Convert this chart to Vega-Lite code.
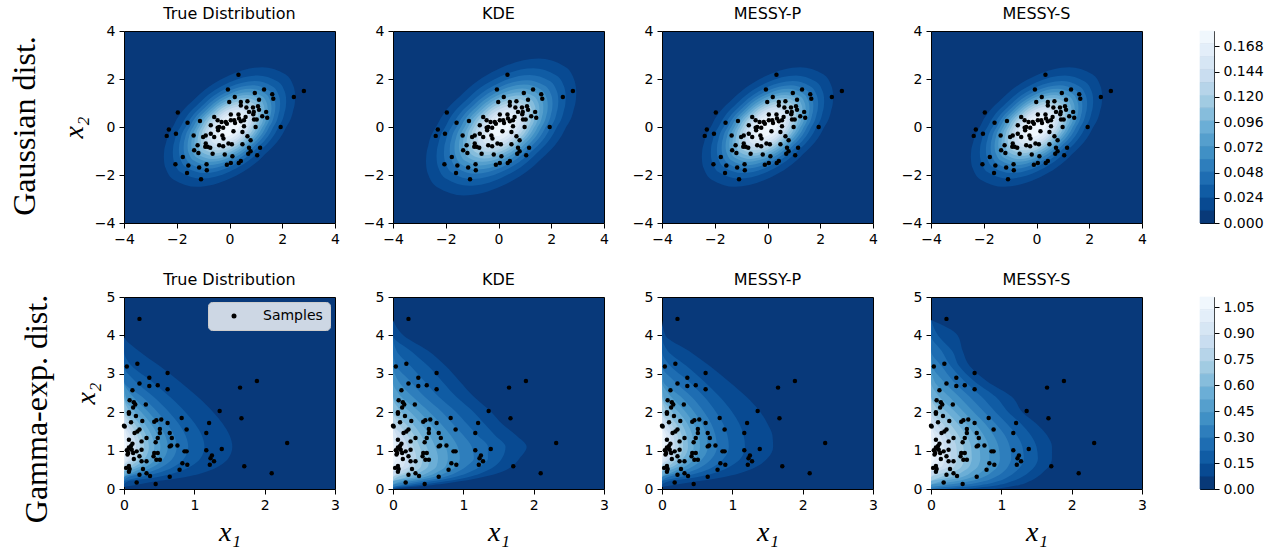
{
  "$schema": "https://vega.github.io/schema/vega-lite/v6.json",
  "padding": {"left": 8, "top": 5, "right": 5, "bottom": 0},
  "background": "white",
  "config": {
    "font": "DejaVu Sans",
    "view": {"stroke": "black", "strokeWidth": 1, "fill": "#08397a"},
    "axis": {"grid": false, "domain": false, "tickColor": "black", "tickSize": 5, "tickWidth": 1,
      "labelFont": "DejaVu Sans", "labelFontSize": 14, "labelColor": "black", "labelPadding": 4,
      "labelFlush": false, "labelOverlap": false,
      "titleFont": "Liberation Serif", "titleFontStyle": "italic", "titleFontWeight": "normal",
      "titleFontSize": 28, "titleColor": "black", "titlePadding": 6},
    "title": {"font": "DejaVu Sans", "fontSize": 16, "fontWeight": "normal", "color": "black", "offset": 2}
  },
  "datasets": {
    "g_pts": [
      {"x":0.34,"y":2.18},{"x":2.82,"y":1.5},{"x":2.44,"y":1.25},{"x":1.31,"y":1.56},{"x":0.96,"y":1.42},{"x":1.62,"y":1.36},{"x":1.66,"y":1.18},{"x":-0.06,"y":1.56},{"x":-0.01,"y":1.04},{"x":0.2,"y":1.25},
      {"x":0.43,"y":1.04},{"x":0.68,"y":1.07},{"x":1.12,"y":1.14},{"x":0.43,"y":0.9},{"x":0.64,"y":0.81},{"x":0.89,"y":0.81},{"x":1.08,"y":0.86},{"x":1.12,"y":0.72},{"x":0.92,"y":0.63},{"x":0.74,"y":0.63},
      {"x":0.61,"y":0.42},{"x":0.93,"y":0.31},{"x":1.03,"y":0.31},{"x":1.24,"y":0.45},{"x":1.43,"y":0.39},{"x":1.94,"y":0.0},{"x":0.9,"y":0.53},{"x":0.05,"y":0.52},{"x":0.34,"y":0.52},{"x":0.36,"y":0.35},
      {"x":0.18,"y":0.28},{"x":0.05,"y":0.28},{"x":-0.14,"y":0.21},{"x":-0.3,"y":0.21},{"x":-0.58,"y":0.42},{"x":-0.45,"y":0.28},{"x":-0.71,"y":0.07},{"x":-0.39,"y":0.0},{"x":-0.43,"y":-0.14},{"x":-0.24,"y":-0.03},
      {"x":-0.1,"y":0.14},{"x":0.21,"y":0.17},{"x":0.43,"y":0.24},{"x":0.55,"y":0.03},{"x":0.15,"y":-0.18},{"x":0.49,"y":-0.21},{"x":0.68,"y":-0.39},{"x":0.8,"y":-0.55},{"x":0.49,"y":-0.72},{"x":0.74,"y":-0.86},
      {"x":1.16,"y":-0.86},{"x":0.8,"y":-1.01},{"x":0.71,"y":-1.11},{"x":1.05,"y":-1.18},{"x":0.43,"y":-1.42},{"x":0.35,"y":-1.5},{"x":0.05,"y":-1.5},{"x":-0.1,"y":-1.57},{"x":0.11,"y":-1.22},{"x":-0.18,"y":-1.15},
      {"x":-0.24,"y":-0.8},{"x":-0.04,"y":-0.69},{"x":0.09,"y":-0.72},{"x":-0.23,"y":-0.48},{"x":-0.27,"y":-0.35},{"x":-0.71,"y":-0.28},{"x":-0.9,"y":-0.35},{"x":-0.58,"y":-0.42},{"x":-1.0,"y":-0.42},{"x":-0.9,"y":-0.69},
      {"x":-0.83,"y":-0.82},{"x":-0.73,"y":-0.86},{"x":-0.92,"y":-0.82},{"x":-0.64,"y":-1.11},{"x":-1.21,"y":-0.76},{"x":-1.34,"y":-0.97},{"x":-1.18,"y":-1.08},{"x":-1.36,"y":-0.35},{"x":-1.12,"y":0.25},{"x":-1.59,"y":0.18},
      {"x":-1.96,"y":0.6},{"x":-2.03,"y":-0.28},{"x":-2.3,"y":-0.1},{"x":-2.38,"y":-0.37},{"x":-1.77,"y":-1.25},{"x":-2.05,"y":-1.55},{"x":-1.56,"y":-1.6},{"x":-1.61,"y":-1.92},{"x":-1.15,"y":-1.69},{"x":-0.87,"y":-1.55},
      {"x":-0.86,"y":-1.8},{"x":-1.08,"y":-2.18},{"x":1.39,"y":0.63},{"x":0.55,"y":0.28},{"x":0.99,"y":0.0},{"x":-0.45,"y":-0.03},{"x":-0.39,"y":-0.76}
    ],
    "gm_pts": [
      {"x":0.22,"y":4.43},{"x":0.04,"y":3.19},{"x":0.19,"y":3.26},{"x":0.36,"y":2.9},{"x":0.22,"y":2.75},{"x":0.36,"y":2.68},{"x":0.48,"y":2.7},{"x":0.62,"y":3.02},{"x":0.62,"y":2.6},{"x":0.12,"y":2.57},
      {"x":0.08,"y":2.31},{"x":0.14,"y":2.26},{"x":0.16,"y":2.2},{"x":0.13,"y":2.12},{"x":0.31,"y":2.2},{"x":0.07,"y":1.96},{"x":0.07,"y":2.0},{"x":0.17,"y":1.9},{"x":0.1,"y":1.74},{"x":0.01,"y":1.63},
      {"x":0.26,"y":1.77},{"x":0.43,"y":1.75},{"x":0.46,"y":1.79},{"x":0.53,"y":1.81},{"x":0.62,"y":1.72},{"x":0.82,"y":1.85},{"x":0.89,"y":1.55},{"x":0.65,"y":1.46},{"x":0.68,"y":1.33},{"x":0.51,"y":1.56},
      {"x":0.51,"y":1.46},{"x":0.48,"y":1.33},{"x":0.45,"y":1.22},{"x":0.22,"y":1.55},{"x":0.19,"y":1.5},{"x":0.15,"y":1.46},{"x":0.07,"y":1.28},{"x":0.12,"y":1.18},{"x":0.25,"y":1.24},{"x":0.32,"y":1.33},
      {"x":0.07,"y":1.08},{"x":0.11,"y":1.02},{"x":0.04,"y":1.01},{"x":0.06,"y":0.94},{"x":0.13,"y":0.94},{"x":0.18,"y":0.98},{"x":0.25,"y":1.02},{"x":0.22,"y":0.85},{"x":0.25,"y":0.72},{"x":0.32,"y":0.72},
      {"x":0.43,"y":0.94},{"x":0.48,"y":0.94},{"x":0.46,"y":0.76},{"x":0.51,"y":0.76},{"x":0.42,"y":0.85},{"x":0.07,"y":0.6},{"x":0.08,"y":0.52},{"x":0.07,"y":0.45},{"x":0.27,"y":0.52},{"x":0.32,"y":0.41},
      {"x":0.37,"y":0.34},{"x":0.22,"y":0.37},{"x":0.18,"y":0.17},{"x":0.45,"y":0.13},{"x":0.65,"y":0.32},{"x":0.79,"y":0.5},{"x":0.83,"y":0.67},{"x":0.9,"y":0.63},{"x":0.86,"y":0.98},{"x":0.65,"y":1.11},
      {"x":0.67,"y":1.13},{"x":0.76,"y":1.13},{"x":1.17,"y":1.46},{"x":1.21,"y":1.72},{"x":1.17,"y":1.01},{"x":1.23,"y":0.8},{"x":1.22,"y":0.63},{"x":1.28,"y":0.72},{"x":1.25,"y":0.87},{"x":1.36,"y":2.03},
      {"x":1.39,"y":1.04},{"x":1.65,"y":2.64},{"x":1.89,"y":2.81},{"x":1.67,"y":1.84},{"x":1.71,"y":0.59},{"x":2.32,"y":1.2},{"x":2.1,"y":0.41},{"x":0.89,"y":0.98},{"x":0.0,"y":1.65},{"x":0.09,"y":1.05},
      {"x":0.05,"y":0.9},{"x":0.1,"y":1.12},{"x":0.03,"y":0.55},{"x":0.14,"y":0.78}
    ],
    "g_true": [
      {"lev":0.01217,"x":[-2.49,-2.478,-2.415,-2.117,-1.245,0,1.245,2.117,2.415,2.478,2.49],"y":[-1.245,-1.023,-0.684,0.078,1.245,2.156,2.49,2.194,1.732,1.454,1.245],"lo":[-1.245,-1.454,-1.732,-2.194,-2.49,-2.156,-1.245,-0.078,0.684,1.023,1.245]},
      {"lev":0.02435,"x":[-2.15,-2.139,-2.086,-1.828,-1.075,0,1.075,1.828,2.086,2.139,2.15],"y":[-1.075,-0.884,-0.59,0.067,1.075,1.862,2.15,1.895,1.495,1.256,1.075],"lo":[-1.075,-1.256,-1.495,-1.895,-2.15,-1.862,-1.075,-0.067,0.59,0.884,1.075]},
      {"lev":0.03652,"x":[-1.92,-1.91,-1.862,-1.632,-0.96,0,0.96,1.632,1.862,1.91,1.92],"y":[-0.96,-0.789,-0.527,0.06,0.96,1.663,1.92,1.692,1.335,1.121,0.96],"lo":[-0.96,-1.121,-1.335,-1.692,-1.92,-1.663,-0.96,-0.06,0.527,0.789,0.96]},
      {"lev":0.0487,"x":[-1.74,-1.731,-1.688,-1.479,-0.87,0,0.87,1.479,1.688,1.731,1.74],"y":[-0.87,-0.715,-0.478,0.054,0.87,1.507,1.74,1.533,1.21,1.016,0.87],"lo":[-0.87,-1.016,-1.21,-1.533,-1.74,-1.507,-0.87,-0.054,0.478,0.715,0.87]},
      {"lev":0.06087,"x":[-1.59,-1.582,-1.542,-1.352,-0.795,0,0.795,1.352,1.542,1.582,1.59],"y":[-0.795,-0.653,-0.436,0.05,0.795,1.377,1.59,1.401,1.106,0.929,0.795],"lo":[-0.795,-0.929,-1.106,-1.401,-1.59,-1.377,-0.795,-0.05,0.436,0.653,0.795]},
      {"lev":0.07304,"x":[-1.45,-1.443,-1.407,-1.233,-0.725,0,0.725,1.233,1.407,1.443,1.45],"y":[-0.725,-0.596,-0.398,0.045,0.725,1.256,1.45,1.278,1.008,0.847,0.725],"lo":[-0.725,-0.847,-1.008,-1.278,-1.45,-1.256,-0.725,-0.045,0.398,0.596,0.725]},
      {"lev":0.08521,"x":[-1.33,-1.323,-1.29,-1.131,-0.665,0,0.665,1.131,1.29,1.323,1.33],"y":[-0.665,-0.547,-0.365,0.041,0.665,1.152,1.33,1.172,0.925,0.777,0.665],"lo":[-0.665,-0.777,-0.925,-1.172,-1.33,-1.152,-0.665,-0.041,0.365,0.547,0.665]},
      {"lev":0.09739,"x":[-1.21,-1.204,-1.174,-1.029,-0.605,0,0.605,1.029,1.174,1.204,1.21],"y":[-0.605,-0.497,-0.332,0.038,0.605,1.048,1.21,1.066,0.842,0.707,0.605],"lo":[-0.605,-0.707,-0.842,-1.066,-1.21,-1.048,-0.605,-0.038,0.332,0.497,0.605]},
      {"lev":0.10956,"x":[-1.09,-1.085,-1.057,-0.927,-0.545,0,0.545,0.927,1.057,1.085,1.09],"y":[-0.545,-0.448,-0.299,0.034,0.545,0.944,1.09,0.961,0.758,0.637,0.545],"lo":[-0.545,-0.637,-0.758,-0.961,-1.09,-0.944,-0.545,-0.034,0.299,0.448,0.545]},
      {"lev":0.12173,"x":[-0.97,-0.965,-0.941,-0.825,-0.485,0,0.485,0.825,0.941,0.965,0.97],"y":[-0.485,-0.399,-0.266,0.03,0.485,0.84,0.97,0.855,0.675,0.566,0.485],"lo":[-0.485,-0.566,-0.675,-0.855,-0.97,-0.84,-0.485,-0.03,0.266,0.399,0.485]},
      {"lev":0.13391,"x":[-0.85,-0.846,-0.825,-0.723,-0.425,0,0.425,0.723,0.825,0.846,0.85],"y":[-0.425,-0.349,-0.233,0.027,0.425,0.736,0.85,0.749,0.591,0.496,0.425],"lo":[-0.425,-0.496,-0.591,-0.749,-0.85,-0.736,-0.425,-0.027,0.233,0.349,0.425]},
      {"lev":0.14608,"x":[-0.73,-0.726,-0.708,-0.621,-0.365,0,0.365,0.621,0.708,0.726,0.73],"y":[-0.365,-0.3,-0.2,0.023,0.365,0.632,0.73,0.643,0.508,0.426,0.365],"lo":[-0.365,-0.426,-0.508,-0.643,-0.73,-0.632,-0.365,-0.023,0.2,0.3,0.365]},
      {"lev":0.15825,"x":[-0.59,-0.587,-0.572,-0.502,-0.295,0,0.295,0.502,0.572,0.587,0.59],"y":[-0.295,-0.242,-0.162,0.018,0.295,0.511,0.59,0.52,0.41,0.345,0.295],"lo":[-0.295,-0.345,-0.41,-0.52,-0.59,-0.511,-0.295,-0.018,0.162,0.242,0.295]},
      {"lev":0.17043,"x":[-0.42,-0.418,-0.407,-0.357,-0.21,0,0.21,0.357,0.407,0.418,0.42],"y":[-0.21,-0.173,-0.115,0.013,0.21,0.364,0.42,0.37,0.292,0.245,0.21],"lo":[-0.21,-0.245,-0.292,-0.37,-0.42,-0.364,-0.21,-0.013,0.115,0.173,0.21]}
    ],
    "g_kde": [
      {"lev":0.01217,"x":[-2.75,-2.736,-2.665,-2.323,-1.325,0.1,1.525,2.523,2.865,2.936,2.95],"y":[-1.425,-1.171,-0.782,0.089,1.425,2.468,2.85,2.511,1.982,1.664,1.425],"lo":[-1.425,-1.664,-1.982,-2.511,-2.85,-2.468,-1.425,-0.089,0.782,1.171,1.425]},
      {"lev":0.02435,"x":[-2.35,-2.338,-2.277,-1.983,-1.125,0.1,1.325,2.183,2.477,2.538,2.55],"y":[-1.225,-1.007,-0.673,0.076,1.225,2.122,2.45,2.159,1.704,1.431,1.225],"lo":[-1.225,-1.431,-1.704,-2.159,-2.45,-2.122,-1.225,-0.076,0.673,1.007,1.225]},
      {"lev":0.03652,"x":[-2.07,-2.059,-2.005,-1.745,-0.985,0.1,1.185,1.945,2.205,2.259,2.27],"y":[-1.085,-0.892,-0.596,0.068,1.085,1.879,2.17,1.912,1.509,1.267,1.085],"lo":[-1.085,-1.267,-1.509,-1.912,-2.17,-1.879,-1.085,-0.068,0.596,0.892,1.085]},
      {"lev":0.0487,"x":[-1.85,-1.84,-1.792,-1.558,-0.875,0.1,1.075,1.758,1.992,2.04,2.05],"y":[-0.975,-0.801,-0.535,0.061,0.975,1.689,1.95,1.718,1.356,1.139,0.975],"lo":[-0.975,-1.139,-1.356,-1.718,-1.95,-1.689,-0.975,-0.061,0.535,0.801,0.975]},
      {"lev":0.06087,"x":[-1.67,-1.661,-1.617,-1.405,-0.785,0.1,0.985,1.605,1.817,1.861,1.87],"y":[-0.885,-0.727,-0.486,0.055,0.885,1.533,1.77,1.56,1.231,1.034,0.885],"lo":[-0.885,-1.034,-1.231,-1.56,-1.77,-1.533,-0.885,-0.055,0.486,0.727,0.885]},
      {"lev":0.07304,"x":[-1.5,-1.492,-1.452,-1.26,-0.7,0.1,0.9,1.46,1.652,1.692,1.7],"y":[-0.8,-0.658,-0.439,0.05,0.8,1.386,1.6,1.41,1.113,0.934,0.8],"lo":[-0.8,-0.934,-1.113,-1.41,-1.6,-1.386,-0.8,-0.05,0.439,0.658,0.8]},
      {"lev":0.08521,"x":[-1.35,-1.343,-1.307,-1.133,-0.625,0.1,0.825,1.333,1.507,1.543,1.55],"y":[-0.725,-0.596,-0.398,0.045,0.725,1.256,1.45,1.278,1.008,0.847,0.725],"lo":[-0.725,-0.847,-1.008,-1.278,-1.45,-1.256,-0.725,-0.045,0.398,0.596,0.725]},
      {"lev":0.09739,"x":[-1.21,-1.203,-1.171,-1.014,-0.555,0.1,0.755,1.214,1.371,1.403,1.41],"y":[-0.655,-0.538,-0.36,0.041,0.655,1.134,1.31,1.154,0.911,0.765,0.655],"lo":[-0.655,-0.765,-0.911,-1.154,-1.31,-1.134,-0.655,-0.041,0.36,0.538,0.655]},
      {"lev":0.10956,"x":[-1.07,-1.064,-1.035,-0.895,-0.485,0.1,0.685,1.095,1.235,1.264,1.27],"y":[-0.585,-0.481,-0.321,0.037,0.585,1.013,1.17,1.031,0.814,0.683,0.585],"lo":[-0.585,-0.683,-0.814,-1.031,-1.17,-1.013,-0.585,-0.037,0.321,0.481,0.585]},
      {"lev":0.12173,"x":[-0.93,-0.925,-0.899,-0.776,-0.415,0.1,0.615,0.976,1.099,1.125,1.13],"y":[-0.515,-0.423,-0.283,0.032,0.515,0.892,1.03,0.908,0.716,0.602,0.515],"lo":[-0.515,-0.602,-0.716,-0.908,-1.03,-0.892,-0.515,-0.032,0.283,0.423,0.515]},
      {"lev":0.13391,"x":[-0.79,-0.786,-0.763,-0.657,-0.345,0.1,0.545,0.857,0.963,0.986,0.99],"y":[-0.445,-0.366,-0.244,0.028,0.445,0.771,0.89,0.784,0.619,0.52,0.445],"lo":[-0.445,-0.52,-0.619,-0.784,-0.89,-0.771,-0.445,-0.028,0.244,0.366,0.445]},
      {"lev":0.14608,"x":[-0.64,-0.636,-0.618,-0.529,-0.27,0.1,0.47,0.729,0.818,0.836,0.84],"y":[-0.37,-0.304,-0.203,0.023,0.37,0.641,0.74,0.652,0.515,0.432,0.37],"lo":[-0.37,-0.432,-0.515,-0.652,-0.74,-0.641,-0.37,-0.023,0.203,0.304,0.37]},
      {"lev":0.15825,"x":[-0.48,-0.477,-0.463,-0.393,-0.19,0.1,0.39,0.593,0.663,0.677,0.68],"y":[-0.29,-0.238,-0.159,0.018,0.29,0.502,0.58,0.511,0.403,0.339,0.29],"lo":[-0.29,-0.339,-0.403,-0.511,-0.58,-0.502,-0.29,-0.018,0.159,0.238,0.29]},
      {"lev":0.17043,"x":[-0.28,-0.278,-0.269,-0.223,-0.09,0.1,0.29,0.423,0.469,0.478,0.48],"y":[-0.19,-0.156,-0.104,0.012,0.19,0.329,0.38,0.335,0.264,0.222,0.19],"lo":[-0.19,-0.222,-0.264,-0.335,-0.38,-0.329,-0.19,-0.012,0.104,0.156,0.19]}
    ],
    "gm_true": [
      {"lev":0.07387,"y":[0,0.05,0.1,0.2,0.3,0.45,0.6,0.8,1.1,1.4,1.7,2,2.4,2.8,3.2,3.6,4,4.4],"x":[0,0,0.15,0.452,0.838,1.168,1.354,1.484,1.54,1.501,1.404,1.269,1.047,0.79,0.508,0.207,0,0]},
      {"lev":0.14773,"y":[0,0.05,0.1,0.2,0.3,0.45,0.6,0.8,1.1,1.4,1.7,2,2.4,2.8,3.2,3.6,4,4.4],"x":[0,0,0,0.056,0.443,0.772,0.958,1.088,1.144,1.106,1.009,0.874,0.652,0.395,0.112,0,0,0]},
      {"lev":0.2216,"y":[0,0.05,0.1,0.2,0.3,0.45,0.6,0.8,1.1,1.4,1.7,2,2.4,2.8,3.2,3.6,4,4.4],"x":[0,0,0,0,0.211,0.541,0.727,0.857,0.913,0.874,0.778,0.642,0.42,0.163,0,0,0,0]},
      {"lev":0.29547,"y":[0,0.05,0.1,0.2,0.3,0.45,0.6,0.8,1.1,1.4,1.7,2,2.4,2.8,3.2,3.6,4,4.4],"x":[0,0,0,0,0.047,0.377,0.563,0.693,0.749,0.71,0.614,0.479,0.257,0,0,0,0,0]},
      {"lev":0.36933,"y":[0,0.05,0.1,0.2,0.3,0.45,0.6,0.8,1.1,1.4,1.7,2,2.4,2.8,3.2,3.6,4,4.4],"x":[0,0,0,0,0,0.25,0.436,0.566,0.622,0.583,0.487,0.351,0.129,0,0,0,0,0]},
      {"lev":0.4432,"y":[0,0.05,0.1,0.2,0.3,0.45,0.6,0.8,1.1,1.4,1.7,2,2.4,2.8,3.2,3.6,4,4.4],"x":[0,0,0,0,0,0.146,0.332,0.462,0.518,0.479,0.383,0.248,0.026,0,0,0,0,0]},
      {"lev":0.51707,"y":[0,0.05,0.1,0.2,0.3,0.45,0.6,0.8,1.1,1.4,1.7,2,2.4,2.8,3.2,3.6,4,4.4],"x":[0,0,0,0,0,0.059,0.245,0.375,0.431,0.392,0.295,0.16,0,0,0,0,0,0]},
      {"lev":0.59093,"y":[0,0.05,0.1,0.2,0.3,0.45,0.6,0.8,1.1,1.4,1.7,2,2.4,2.8,3.2,3.6,4,4.4],"x":[0,0,0,0,0,0,0.168,0.298,0.354,0.315,0.219,0.084,0,0,0,0,0,0]},
      {"lev":0.6648,"y":[0,0.05,0.1,0.2,0.3,0.45,0.6,0.8,1.1,1.4,1.7,2,2.4,2.8,3.2,3.6,4,4.4],"x":[0,0,0,0,0,0,0.101,0.231,0.287,0.248,0.152,0.017,0,0,0,0,0,0]},
      {"lev":0.73867,"y":[0,0.05,0.1,0.2,0.3,0.45,0.6,0.8,1.1,1.4,1.7,2,2.4,2.8,3.2,3.6,4,4.4],"x":[0,0,0,0,0,0,0.041,0.171,0.226,0.188,0.091,0,0,0,0,0,0,0]},
      {"lev":0.81253,"y":[0,0.05,0.1,0.2,0.3,0.45,0.6,0.8,1.1,1.4,1.7,2,2.4,2.8,3.2,3.6,4,4.4],"x":[0,0,0,0,0,0,0,0.116,0.172,0.133,0.037,0,0,0,0,0,0,0]},
      {"lev":0.8864,"y":[0,0.05,0.1,0.2,0.3,0.45,0.6,0.8,1.1,1.4,1.7,2,2.4,2.8,3.2,3.6,4,4.4],"x":[0,0,0,0,0,0,0,0.067,0.123,0.084,0,0,0,0,0,0,0,0]},
      {"lev":0.96027,"y":[0,0.05,0.1,0.2,0.3,0.45,0.6,0.8,1.1,1.4,1.7,2,2.4,2.8,3.2,3.6,4,4.4],"x":[0,0,0,0,0,0,0,0.021,0.077,0.038,0,0,0,0,0,0,0,0]},
      {"lev":1.03413,"y":[0,0.05,0.1,0.2,0.3,0.45,0.6,0.8,1.1,1.4,1.7,2,2.4,2.8,3.2,3.6,4,4.4],"x":[0,0,0,0,0,0,0,0,0.035,0,0,0,0,0,0,0,0,0]}
    ],
    "gm_kde": [
      {"lev":0.07387,"y":[0,0.05,0.1,0.2,0.3,0.45,0.6,0.8,1.1,1.4,1.7,2,2.4,2.8,3.2,3.6,4,4.4],"x":[0,0.25,0.55,0.95,1.25,1.55,1.7,1.8,1.9,1.75,1.55,1.4,1.15,0.95,0.75,0.5,0.15,0]},
      {"lev":0.14773,"y":[0,0.05,0.1,0.2,0.3,0.45,0.6,0.8,1.1,1.4,1.7,2,2.4,2.8,3.2,3.6,4,4.4],"x":[0,0.1,0.35,0.75,1.05,1.3,1.45,1.55,1.6,1.45,1.3,1.15,0.9,0.7,0.5,0.25,0,0]},
      {"lev":0.2216,"y":[0,0.05,0.1,0.2,0.3,0.45,0.6,0.8,1.1,1.4,1.7,2,2.4,2.8,3.2,3.6,4,4.4],"x":[0,0,0.2,0.55,0.85,1.1,1.25,1.35,1.35,1.2,1.05,0.9,0.65,0.45,0.25,0.05,0,0]},
      {"lev":0.29547,"y":[0,0.05,0.1,0.2,0.3,0.45,0.6,0.8,1.1,1.4,1.7,2,2.4,2.8,3.2,3.6,4,4.4],"x":[0,0,0.1,0.4,0.7,0.92,1.05,1.15,1.12,1.0,0.85,0.7,0.45,0.25,0.05,0,0,0]},
      {"lev":0.36933,"y":[0,0.05,0.1,0.2,0.3,0.45,0.6,0.8,1.1,1.4,1.7,2,2.4,2.8,3.2,3.6,4,4.4],"x":[0,0,0,0.25,0.55,0.78,0.9,0.95,0.92,0.82,0.68,0.52,0.28,0.08,0,0,0,0]},
      {"lev":0.4432,"y":[0,0.05,0.1,0.2,0.3,0.45,0.6,0.8,1.1,1.4,1.7,2,2.4,2.8,3.2,3.6,4,4.4],"x":[0,0,0,0.12,0.42,0.64,0.75,0.78,0.75,0.66,0.53,0.38,0.12,0,0,0,0,0]},
      {"lev":0.51707,"y":[0,0.05,0.1,0.2,0.3,0.45,0.6,0.8,1.1,1.4,1.7,2,2.4,2.8,3.2,3.6,4,4.4],"x":[0,0,0,0,0.3,0.52,0.62,0.64,0.6,0.52,0.4,0.25,0,0,0,0,0,0]},
      {"lev":0.59093,"y":[0,0.05,0.1,0.2,0.3,0.45,0.6,0.8,1.1,1.4,1.7,2,2.4,2.8,3.2,3.6,4,4.4],"x":[0,0,0,0,0.18,0.4,0.5,0.52,0.48,0.4,0.28,0.12,0,0,0,0,0,0]},
      {"lev":0.6648,"y":[0,0.05,0.1,0.2,0.3,0.45,0.6,0.8,1.1,1.4,1.7,2,2.4,2.8,3.2,3.6,4,4.4],"x":[0,0,0,0,0.05,0.3,0.4,0.42,0.38,0.3,0.18,0,0,0,0,0,0,0]},
      {"lev":0.73867,"y":[0,0.05,0.1,0.2,0.3,0.45,0.6,0.8,1.1,1.4,1.7,2,2.4,2.8,3.2,3.6,4,4.4],"x":[0,0,0,0,0,0.2,0.31,0.33,0.29,0.21,0.08,0,0,0,0,0,0,0]},
      {"lev":0.81253,"y":[0,0.05,0.1,0.2,0.3,0.45,0.6,0.8,1.1,1.4,1.7,2,2.4,2.8,3.2,3.6,4,4.4],"x":[0,0,0,0,0,0.1,0.23,0.25,0.21,0.13,0,0,0,0,0,0,0,0]},
      {"lev":0.8864,"y":[0,0.05,0.1,0.2,0.3,0.45,0.6,0.8,1.1,1.4,1.7,2,2.4,2.8,3.2,3.6,4,4.4],"x":[0,0,0,0,0,0,0.15,0.18,0.14,0.05,0,0,0,0,0,0,0,0]},
      {"lev":0.96027,"y":[0,0.05,0.1,0.2,0.3,0.45,0.6,0.8,1.1,1.4,1.7,2,2.4,2.8,3.2,3.6,4,4.4],"x":[0,0,0,0,0,0,0.06,0.11,0.07,0,0,0,0,0,0,0,0,0]},
      {"lev":1.03413,"y":[0,0.05,0.1,0.2,0.3,0.45,0.6,0.8,1.1,1.4,1.7,2,2.4,2.8,3.2,3.6,4,4.4],"x":[0,0,0,0,0,0,0,0.04,0.01,0,0,0,0,0,0,0,0,0]}
    ],
    "gm_p": [
      {"lev":0.07387,"y":[0,0.05,0.1,0.2,0.3,0.45,0.6,0.8,1.1,1.4,1.7,2,2.4,2.8,3.2,3.6,4,4.4],"x":[0,0,0.15,0.5,0.85,1.17,1.36,1.5,1.58,1.57,1.5,1.4,1.2,0.95,0.68,0.38,0.05,0]},
      {"lev":0.14773,"y":[0,0.05,0.1,0.2,0.3,0.45,0.6,0.8,1.1,1.4,1.7,2,2.4,2.8,3.2,3.6,4,4.4],"x":[0,0,0,0.1,0.47,0.8,0.98,1.12,1.18,1.16,1.1,1.0,0.82,0.6,0.35,0.08,0,0]},
      {"lev":0.2216,"y":[0,0.05,0.1,0.2,0.3,0.45,0.6,0.8,1.1,1.4,1.7,2,2.4,2.8,3.2,3.6,4,4.4],"x":[0,0,0,0,0.24,0.57,0.75,0.88,0.95,0.93,0.87,0.77,0.6,0.38,0.12,0,0,0]},
      {"lev":0.29547,"y":[0,0.05,0.1,0.2,0.3,0.45,0.6,0.8,1.1,1.4,1.7,2,2.4,2.8,3.2,3.6,4,4.4],"x":[0,0,0,0,0.07,0.4,0.58,0.71,0.78,0.76,0.7,0.6,0.42,0.18,0,0,0,0]},
      {"lev":0.36933,"y":[0,0.05,0.1,0.2,0.3,0.45,0.6,0.8,1.1,1.4,1.7,2,2.4,2.8,3.2,3.6,4,4.4],"x":[0,0,0,0,0,0.27,0.45,0.58,0.65,0.63,0.57,0.46,0.27,0.02,0,0,0,0]},
      {"lev":0.4432,"y":[0,0.05,0.1,0.2,0.3,0.45,0.6,0.8,1.1,1.4,1.7,2,2.4,2.8,3.2,3.6,4,4.4],"x":[0,0,0,0,0,0.16,0.34,0.47,0.54,0.52,0.45,0.34,0.13,0,0,0,0,0]},
      {"lev":0.51707,"y":[0,0.05,0.1,0.2,0.3,0.45,0.6,0.8,1.1,1.4,1.7,2,2.4,2.8,3.2,3.6,4,4.4],"x":[0,0,0,0,0,0.07,0.25,0.38,0.45,0.43,0.36,0.24,0.02,0,0,0,0,0]},
      {"lev":0.59093,"y":[0,0.05,0.1,0.2,0.3,0.45,0.6,0.8,1.1,1.4,1.7,2,2.4,2.8,3.2,3.6,4,4.4],"x":[0,0,0,0,0,0,0.17,0.3,0.37,0.35,0.28,0.15,0,0,0,0,0,0]},
      {"lev":0.6648,"y":[0,0.05,0.1,0.2,0.3,0.45,0.6,0.8,1.1,1.4,1.7,2,2.4,2.8,3.2,3.6,4,4.4],"x":[0,0,0,0,0,0,0.1,0.23,0.3,0.28,0.2,0.07,0,0,0,0,0,0]},
      {"lev":0.73867,"y":[0,0.05,0.1,0.2,0.3,0.45,0.6,0.8,1.1,1.4,1.7,2,2.4,2.8,3.2,3.6,4,4.4],"x":[0,0,0,0,0,0,0.04,0.17,0.24,0.22,0.13,0,0,0,0,0,0,0]},
      {"lev":0.81253,"y":[0,0.05,0.1,0.2,0.3,0.45,0.6,0.8,1.1,1.4,1.7,2,2.4,2.8,3.2,3.6,4,4.4],"x":[0,0,0,0,0,0,0,0.11,0.18,0.16,0.07,0,0,0,0,0,0,0]},
      {"lev":0.8864,"y":[0,0.05,0.1,0.2,0.3,0.45,0.6,0.8,1.1,1.4,1.7,2,2.4,2.8,3.2,3.6,4,4.4],"x":[0,0,0,0,0,0,0,0.06,0.13,0.11,0.01,0,0,0,0,0,0,0]},
      {"lev":0.96027,"y":[0,0.05,0.1,0.2,0.3,0.45,0.6,0.8,1.1,1.4,1.7,2,2.4,2.8,3.2,3.6,4,4.4],"x":[0,0,0,0,0,0,0,0.02,0.08,0.06,0,0,0,0,0,0,0,0]},
      {"lev":1.03413,"y":[0,0.05,0.1,0.2,0.3,0.45,0.6,0.8,1.1,1.4,1.7,2,2.4,2.8,3.2,3.6,4,4.4],"x":[0,0,0,0,0,0,0,0,0.04,0.02,0,0,0,0,0,0,0,0]}
    ],
    "gm_s": [
      {"lev":0.07387,"y":[0,0.05,0.1,0.2,0.3,0.45,0.6,0.8,1.1,1.4,1.7,2,2.4,2.8,3.2,3.6,4,4.4],"x":[0.9,1.1,1.25,1.4,1.5,1.6,1.68,1.72,1.72,1.65,1.5,1.3,1.15,0.8,0.55,0.45,0.38,0]},
      {"lev":0.14773,"y":[0,0.05,0.1,0.2,0.3,0.45,0.6,0.8,1.1,1.4,1.7,2,2.4,2.8,3.2,3.6,4,4.4],"x":[0.5,0.75,0.95,1.15,1.28,1.4,1.48,1.52,1.5,1.42,1.28,1.1,0.92,0.62,0.4,0.3,0.1,0]},
      {"lev":0.2216,"y":[0,0.05,0.1,0.2,0.3,0.45,0.6,0.8,1.1,1.4,1.7,2,2.4,2.8,3.2,3.6,4,4.4],"x":[0.2,0.45,0.7,0.95,1.08,1.2,1.28,1.32,1.3,1.22,1.08,0.92,0.72,0.48,0.28,0.15,0,0]},
      {"lev":0.29547,"y":[0,0.05,0.1,0.2,0.3,0.45,0.6,0.8,1.1,1.4,1.7,2,2.4,2.8,3.2,3.6,4,4.4],"x":[0,0.2,0.45,0.75,0.9,1.03,1.1,1.14,1.12,1.05,0.92,0.76,0.55,0.32,0.15,0,0,0]},
      {"lev":0.36933,"y":[0,0.05,0.1,0.2,0.3,0.45,0.6,0.8,1.1,1.4,1.7,2,2.4,2.8,3.2,3.6,4,4.4],"x":[0,0,0.2,0.55,0.73,0.87,0.95,0.98,0.96,0.89,0.77,0.61,0.4,0.18,0.02,0,0,0]},
      {"lev":0.4432,"y":[0,0.05,0.1,0.2,0.3,0.45,0.6,0.8,1.1,1.4,1.7,2,2.4,2.8,3.2,3.6,4,4.4],"x":[0,0,0,0.35,0.57,0.72,0.8,0.83,0.82,0.75,0.63,0.47,0.26,0.05,0,0,0,0]},
      {"lev":0.51707,"y":[0,0.05,0.1,0.2,0.3,0.45,0.6,0.8,1.1,1.4,1.7,2,2.4,2.8,3.2,3.6,4,4.4],"x":[0,0,0,0.15,0.42,0.58,0.67,0.7,0.69,0.62,0.5,0.35,0.12,0,0,0,0,0]},
      {"lev":0.59093,"y":[0,0.05,0.1,0.2,0.3,0.45,0.6,0.8,1.1,1.4,1.7,2,2.4,2.8,3.2,3.6,4,4.4],"x":[0,0,0,0,0.27,0.45,0.55,0.58,0.57,0.5,0.38,0.23,0,0,0,0,0,0]},
      {"lev":0.6648,"y":[0,0.05,0.1,0.2,0.3,0.45,0.6,0.8,1.1,1.4,1.7,2,2.4,2.8,3.2,3.6,4,4.4],"x":[0,0,0,0,0.12,0.33,0.44,0.47,0.46,0.39,0.27,0.12,0,0,0,0,0,0]},
      {"lev":0.73867,"y":[0,0.05,0.1,0.2,0.3,0.45,0.6,0.8,1.1,1.4,1.7,2,2.4,2.8,3.2,3.6,4,4.4],"x":[0,0,0,0,0,0.22,0.34,0.37,0.36,0.29,0.17,0.02,0,0,0,0,0,0]},
      {"lev":0.81253,"y":[0,0.05,0.1,0.2,0.3,0.45,0.6,0.8,1.1,1.4,1.7,2,2.4,2.8,3.2,3.6,4,4.4],"x":[0,0,0,0,0,0.1,0.25,0.28,0.27,0.2,0.08,0,0,0,0,0,0,0]},
      {"lev":0.8864,"y":[0,0.05,0.1,0.2,0.3,0.45,0.6,0.8,1.1,1.4,1.7,2,2.4,2.8,3.2,3.6,4,4.4],"x":[0,0,0,0,0,0,0.16,0.2,0.19,0.12,0,0,0,0,0,0,0,0]},
      {"lev":0.96027,"y":[0,0.05,0.1,0.2,0.3,0.45,0.6,0.8,1.1,1.4,1.7,2,2.4,2.8,3.2,3.6,4,4.4],"x":[0,0,0,0,0,0,0.07,0.12,0.11,0.05,0,0,0,0,0,0,0,0]},
      {"lev":1.03413,"y":[0,0.05,0.1,0.2,0.3,0.45,0.6,0.8,1.1,1.4,1.7,2,2.4,2.8,3.2,3.6,4,4.4],"x":[0,0,0,0,0,0,0,0.05,0.04,0,0,0,0,0,0,0,0,0]}
    ],
    "g_bar": [
      {"lo":0,"hi":0.01217},{"lo":0.01217,"hi":0.02435},{"lo":0.02435,"hi":0.03652},{"lo":0.03652,"hi":0.0487},{"lo":0.0487,"hi":0.06087},
      {"lo":0.06087,"hi":0.07304},{"lo":0.07304,"hi":0.08521},{"lo":0.08521,"hi":0.09739},{"lo":0.09739,"hi":0.10956},{"lo":0.10956,"hi":0.12173},
      {"lo":0.12173,"hi":0.13391},{"lo":0.13391,"hi":0.14608},{"lo":0.14608,"hi":0.15825},{"lo":0.15825,"hi":0.17043},{"lo":0.17043,"hi":0.1826}
    ],
    "gm_bar": [
      {"lo":0,"hi":0.07387},{"lo":0.07387,"hi":0.14773},{"lo":0.14773,"hi":0.2216},{"lo":0.2216,"hi":0.29547},{"lo":0.29547,"hi":0.36933},
      {"lo":0.36933,"hi":0.4432},{"lo":0.4432,"hi":0.51707},{"lo":0.51707,"hi":0.59093},{"lo":0.59093,"hi":0.6648},{"lo":0.6648,"hi":0.73867},
      {"lo":0.73867,"hi":0.81253},{"lo":0.81253,"hi":0.8864},{"lo":0.8864,"hi":0.96027},{"lo":0.96027,"hi":1.03413},{"lo":1.03413,"hi":1.108}
    ]
  },
  "resolve": {"scale": {"fill": "independent", "color": "independent", "stroke": "independent", "shape": "independent"}, "legend": {"fill": "independent", "color": "independent", "stroke": "independent", "shape": "independent"}},
  "spacing": 24,
  "vconcat": [
    {
      "title": {"text": "Gaussian dist.", "orient": "left", "anchor": "middle", "font": "Liberation Serif", "fontSize": 32, "fontWeight": "normal", "color": "black", "offset": 18},
      "resolve": {"scale": {"fill": "independent", "color": "independent", "stroke": "independent", "shape": "independent"}, "legend": {"fill": "independent", "color": "independent", "stroke": "independent", "shape": "independent"}},
      "spacing": 58,
      "bounds": "flush",
      "hconcat": [
        {
          "width": 211, "height": 192, "title": "True Distribution",
          "encoding": {
            "x": {"field": "x", "type": "quantitative", "scale": {"domain": [-4, 4], "nice": false, "zero": false}, "axis": {"values": [-4, -2, 0, 2, 4], "title": null}},
            "y": {"field": "y", "type": "quantitative", "stack": null, "scale": {"domain": [-4, 4], "nice": false, "zero": false}, "axis": {"values": [-4, -2, 0, 2, 4], "title": "x₂"}}
          },
          "layer": [
            {"data": {"name": "g_true"}, "transform": [{"flatten": ["x", "y", "lo"]}],
             "mark": {"type": "area", "interpolate": "monotone", "clip": true},
             "encoding": {"y2": {"field": "lo"},
               "fill": {"field": "lev", "type": "quantitative", "legend": null, "scale": {"type": "linear", "domain": [-0.006087, 0.016738, 0.039563, 0.062388, 0.085213, 0.108038, 0.130863, 0.153688, 0.176513], "range": ["#08306b", "#08519c", "#2171b5", "#4292c6", "#6baed6", "#9ecae1", "#c6dbef", "#deebf7", "#f7fbff"], "interpolate": "rgb", "clamp": true}},
               "detail": {"field": "lev", "type": "quantitative"}}},
            {"data": {"name": "g_pts"}, "mark": {"type": "point", "filled": true, "color": "black", "size": 20, "opacity": 1}}
          ]
        },
        {
          "width": 211, "height": 192, "title": "KDE",
          "encoding": {
            "x": {"field": "x", "type": "quantitative", "scale": {"domain": [-4, 4], "nice": false, "zero": false}, "axis": {"values": [-4, -2, 0, 2, 4], "title": null}},
            "y": {"field": "y", "type": "quantitative", "stack": null, "scale": {"domain": [-4, 4], "nice": false, "zero": false}, "axis": {"values": [-4, -2, 0, 2, 4], "title": null}}
          },
          "layer": [
            {"data": {"name": "g_kde"}, "transform": [{"flatten": ["x", "y", "lo"]}],
             "mark": {"type": "area", "interpolate": "monotone", "clip": true},
             "encoding": {"y2": {"field": "lo"},
               "fill": {"field": "lev", "type": "quantitative", "legend": null, "scale": {"type": "linear", "domain": [-0.006087, 0.016738, 0.039563, 0.062388, 0.085213, 0.108038, 0.130863, 0.153688, 0.176513], "range": ["#08306b", "#08519c", "#2171b5", "#4292c6", "#6baed6", "#9ecae1", "#c6dbef", "#deebf7", "#f7fbff"], "interpolate": "rgb", "clamp": true}},
               "detail": {"field": "lev", "type": "quantitative"}}},
            {"data": {"name": "g_pts"}, "mark": {"type": "point", "filled": true, "color": "black", "size": 20, "opacity": 1}}
          ]
        },
        {
          "width": 211, "height": 192, "title": "MESSY-P",
          "encoding": {
            "x": {"field": "x", "type": "quantitative", "scale": {"domain": [-4, 4], "nice": false, "zero": false}, "axis": {"values": [-4, -2, 0, 2, 4], "title": null}},
            "y": {"field": "y", "type": "quantitative", "stack": null, "scale": {"domain": [-4, 4], "nice": false, "zero": false}, "axis": {"values": [-4, -2, 0, 2, 4], "title": null}}
          },
          "layer": [
            {"data": {"name": "g_true"}, "transform": [{"flatten": ["x", "y", "lo"]}],
             "mark": {"type": "area", "interpolate": "monotone", "clip": true},
             "encoding": {"y2": {"field": "lo"},
               "fill": {"field": "lev", "type": "quantitative", "legend": null, "scale": {"type": "linear", "domain": [-0.006087, 0.016738, 0.039563, 0.062388, 0.085213, 0.108038, 0.130863, 0.153688, 0.176513], "range": ["#08306b", "#08519c", "#2171b5", "#4292c6", "#6baed6", "#9ecae1", "#c6dbef", "#deebf7", "#f7fbff"], "interpolate": "rgb", "clamp": true}},
               "detail": {"field": "lev", "type": "quantitative"}}},
            {"data": {"name": "g_pts"}, "mark": {"type": "point", "filled": true, "color": "black", "size": 20, "opacity": 1}}
          ]
        },
        {
          "width": 211, "height": 192, "title": "MESSY-S",
          "encoding": {
            "x": {"field": "x", "type": "quantitative", "scale": {"domain": [-4, 4], "nice": false, "zero": false}, "axis": {"values": [-4, -2, 0, 2, 4], "title": null}},
            "y": {"field": "y", "type": "quantitative", "stack": null, "scale": {"domain": [-4, 4], "nice": false, "zero": false}, "axis": {"values": [-4, -2, 0, 2, 4], "title": null}}
          },
          "layer": [
            {"data": {"name": "g_true"}, "transform": [{"flatten": ["x", "y", "lo"]}],
             "mark": {"type": "area", "interpolate": "monotone", "clip": true},
             "encoding": {"y2": {"field": "lo"},
               "fill": {"field": "lev", "type": "quantitative", "legend": null, "scale": {"type": "linear", "domain": [-0.006087, 0.016738, 0.039563, 0.062388, 0.085213, 0.108038, 0.130863, 0.153688, 0.176513], "range": ["#08306b", "#08519c", "#2171b5", "#4292c6", "#6baed6", "#9ecae1", "#c6dbef", "#deebf7", "#f7fbff"], "interpolate": "rgb", "clamp": true}},
               "detail": {"field": "lev", "type": "quantitative"}}},
            {"data": {"name": "g_pts"}, "mark": {"type": "point", "filled": true, "color": "black", "size": 20, "opacity": 1}}
          ]
        },
        {
          "width": 14, "height": 192,
          "data": {"name": "g_bar"},
          "mark": {"type": "rect", "strokeWidth": 0.6},
          "encoding": {
            "x": {"datum": 0, "type": "quantitative", "scale": {"domain": [0, 1], "nice": false, "zero": false}, "axis": null},
            "x2": {"datum": 1},
            "y": {"field": "lo", "type": "quantitative", "scale": {"domain": [0, 0.1826], "nice": false, "zero": false}, "axis": {"orient": "right", "values": [0, 0.024, 0.048, 0.072, 0.096, 0.12, 0.144, 0.168], "format": ".3f", "title": null}},
            "y2": {"field": "hi"},
            "fill": {"field": "lo", "type": "quantitative", "legend": null, "scale": {"type": "linear", "domain": [-0.006087, 0.016738, 0.039563, 0.062388, 0.085213, 0.108038, 0.130863, 0.153688, 0.176513], "range": ["#08306b", "#08519c", "#2171b5", "#4292c6", "#6baed6", "#9ecae1", "#c6dbef", "#deebf7", "#f7fbff"], "interpolate": "rgb", "clamp": true}},
            "stroke": {"field": "lo", "type": "quantitative", "legend": null, "scale": {"type": "linear", "domain": [-0.006087, 0.016738, 0.039563, 0.062388, 0.085213, 0.108038, 0.130863, 0.153688, 0.176513], "range": ["#08306b", "#08519c", "#2171b5", "#4292c6", "#6baed6", "#9ecae1", "#c6dbef", "#deebf7", "#f7fbff"], "interpolate": "rgb", "clamp": true}}
          }
        }
      ]
    },
    {
      "title": {"text": "Gamma-exp.  dist.", "orient": "left", "anchor": "middle", "font": "Liberation Serif", "fontSize": 32, "fontWeight": "normal", "color": "black", "offset": 18},
      "resolve": {"scale": {"fill": "independent", "color": "independent", "stroke": "independent", "shape": "independent"}, "legend": {"fill": "independent", "color": "independent", "stroke": "independent", "shape": "independent"}},
      "spacing": 58,
      "bounds": "flush",
      "hconcat": [
        {
          "width": 211, "height": 192, "title": "True Distribution",
          "encoding": {
            "x": {"field": "x", "type": "quantitative", "stack": null, "scale": {"domain": [0, 3], "nice": false, "zero": false}, "axis": {"values": [0, 1, 2, 3], "title": "x₁"}},
            "y": {"field": "y", "type": "quantitative", "scale": {"domain": [0, 5], "nice": false, "zero": false}, "axis": {"values": [0, 1, 2, 3, 4, 5], "title": "x₂"}}
          },
          "layer": [
            {"data": {"name": "gm_true"}, "transform": [{"flatten": ["x", "y"]}],
             "mark": {"type": "area", "orient": "horizontal", "interpolate": "monotone", "clip": true},
             "encoding": {"x2": {"datum": 0},
               "color": {"field": "lev", "type": "quantitative", "legend": null, "scale": {"type": "linear", "domain": [-0.036933, 0.101567, 0.240067, 0.378567, 0.517067, 0.655567, 0.794067, 0.932567, 1.071067], "range": ["#08306b", "#08519c", "#2171b5", "#4292c6", "#6baed6", "#9ecae1", "#c6dbef", "#deebf7", "#f7fbff"], "interpolate": "rgb", "clamp": true}},
               "detail": {"field": "lev", "type": "quantitative"}}},
            {"data": {"name": "gm_pts"}, "mark": {"type": "point", "filled": true, "color": "black", "size": 20, "opacity": 1},
             "encoding": {"shape": {"datum": "Samples", "type": "nominal", "scale": {"range": ["circle"]},
               "legend": {"title": null, "orient": "top-right", "offset": 5, "padding": 7, "fillColor": "rgba(255,255,255,0.8)", "strokeColor": "#cccccc", "cornerRadius": 4, "labelFont": "DejaVu Sans", "labelFontSize": 14, "labelColor": "black", "symbolSize": 25, "symbolFillColor": "black", "symbolStrokeWidth": 0, "symbolOffset": 12, "labelOffset": 22}}}}
          ]
        },
        {
          "width": 211, "height": 192, "title": "KDE",
          "encoding": {
            "x": {"field": "x", "type": "quantitative", "stack": null, "scale": {"domain": [0, 3], "nice": false, "zero": false}, "axis": {"values": [0, 1, 2, 3], "title": "x₁"}},
            "y": {"field": "y", "type": "quantitative", "scale": {"domain": [0, 5], "nice": false, "zero": false}, "axis": {"values": [0, 1, 2, 3, 4, 5], "title": null}}
          },
          "layer": [
            {"data": {"name": "gm_kde"}, "transform": [{"flatten": ["x", "y"]}],
             "mark": {"type": "area", "orient": "horizontal", "interpolate": "monotone", "clip": true},
             "encoding": {"x2": {"datum": 0},
               "color": {"field": "lev", "type": "quantitative", "legend": null, "scale": {"type": "linear", "domain": [-0.036933, 0.101567, 0.240067, 0.378567, 0.517067, 0.655567, 0.794067, 0.932567, 1.071067], "range": ["#08306b", "#08519c", "#2171b5", "#4292c6", "#6baed6", "#9ecae1", "#c6dbef", "#deebf7", "#f7fbff"], "interpolate": "rgb", "clamp": true}},
               "detail": {"field": "lev", "type": "quantitative"}}},
            {"data": {"name": "gm_pts"}, "mark": {"type": "point", "filled": true, "color": "black", "size": 20, "opacity": 1}}
          ]
        },
        {
          "width": 211, "height": 192, "title": "MESSY-P",
          "encoding": {
            "x": {"field": "x", "type": "quantitative", "stack": null, "scale": {"domain": [0, 3], "nice": false, "zero": false}, "axis": {"values": [0, 1, 2, 3], "title": "x₁"}},
            "y": {"field": "y", "type": "quantitative", "scale": {"domain": [0, 5], "nice": false, "zero": false}, "axis": {"values": [0, 1, 2, 3, 4, 5], "title": null}}
          },
          "layer": [
            {"data": {"name": "gm_p"}, "transform": [{"flatten": ["x", "y"]}],
             "mark": {"type": "area", "orient": "horizontal", "interpolate": "monotone", "clip": true},
             "encoding": {"x2": {"datum": 0},
               "color": {"field": "lev", "type": "quantitative", "legend": null, "scale": {"type": "linear", "domain": [-0.036933, 0.101567, 0.240067, 0.378567, 0.517067, 0.655567, 0.794067, 0.932567, 1.071067], "range": ["#08306b", "#08519c", "#2171b5", "#4292c6", "#6baed6", "#9ecae1", "#c6dbef", "#deebf7", "#f7fbff"], "interpolate": "rgb", "clamp": true}},
               "detail": {"field": "lev", "type": "quantitative"}}},
            {"data": {"name": "gm_pts"}, "mark": {"type": "point", "filled": true, "color": "black", "size": 20, "opacity": 1}}
          ]
        },
        {
          "width": 211, "height": 192, "title": "MESSY-S",
          "encoding": {
            "x": {"field": "x", "type": "quantitative", "stack": null, "scale": {"domain": [0, 3], "nice": false, "zero": false}, "axis": {"values": [0, 1, 2, 3], "title": "x₁"}},
            "y": {"field": "y", "type": "quantitative", "scale": {"domain": [0, 5], "nice": false, "zero": false}, "axis": {"values": [0, 1, 2, 3, 4, 5], "title": null}}
          },
          "layer": [
            {"data": {"name": "gm_s"}, "transform": [{"flatten": ["x", "y"]}],
             "mark": {"type": "area", "orient": "horizontal", "interpolate": "monotone", "clip": true},
             "encoding": {"x2": {"datum": 0},
               "color": {"field": "lev", "type": "quantitative", "legend": null, "scale": {"type": "linear", "domain": [-0.036933, 0.101567, 0.240067, 0.378567, 0.517067, 0.655567, 0.794067, 0.932567, 1.071067], "range": ["#08306b", "#08519c", "#2171b5", "#4292c6", "#6baed6", "#9ecae1", "#c6dbef", "#deebf7", "#f7fbff"], "interpolate": "rgb", "clamp": true}},
               "detail": {"field": "lev", "type": "quantitative"}}},
            {"data": {"name": "gm_pts"}, "mark": {"type": "point", "filled": true, "color": "black", "size": 20, "opacity": 1}}
          ]
        },
        {
          "width": 14, "height": 192,
          "data": {"name": "gm_bar"},
          "mark": {"type": "rect", "strokeWidth": 0.6},
          "encoding": {
            "x": {"datum": 0, "type": "quantitative", "scale": {"domain": [0, 1], "nice": false, "zero": false}, "axis": null},
            "x2": {"datum": 1},
            "y": {"field": "lo", "type": "quantitative", "scale": {"domain": [0, 1.108], "nice": false, "zero": false}, "axis": {"orient": "right", "values": [0, 0.15, 0.3, 0.45, 0.6, 0.75, 0.9, 1.05], "format": ".2f", "title": null}},
            "y2": {"field": "hi"},
            "color": {"field": "lo", "type": "quantitative", "legend": null, "scale": {"type": "linear", "domain": [-0.036933, 0.101567, 0.240067, 0.378567, 0.517067, 0.655567, 0.794067, 0.932567, 1.071067], "range": ["#08306b", "#08519c", "#2171b5", "#4292c6", "#6baed6", "#9ecae1", "#c6dbef", "#deebf7", "#f7fbff"], "interpolate": "rgb", "clamp": true}},
            "stroke": {"field": "lo", "type": "quantitative", "legend": null, "scale": {"type": "linear", "domain": [-0.036933, 0.101567, 0.240067, 0.378567, 0.517067, 0.655567, 0.794067, 0.932567, 1.071067], "range": ["#08306b", "#08519c", "#2171b5", "#4292c6", "#6baed6", "#9ecae1", "#c6dbef", "#deebf7", "#f7fbff"], "interpolate": "rgb", "clamp": true}}
          }
        }
      ]
    }
  ]
}
